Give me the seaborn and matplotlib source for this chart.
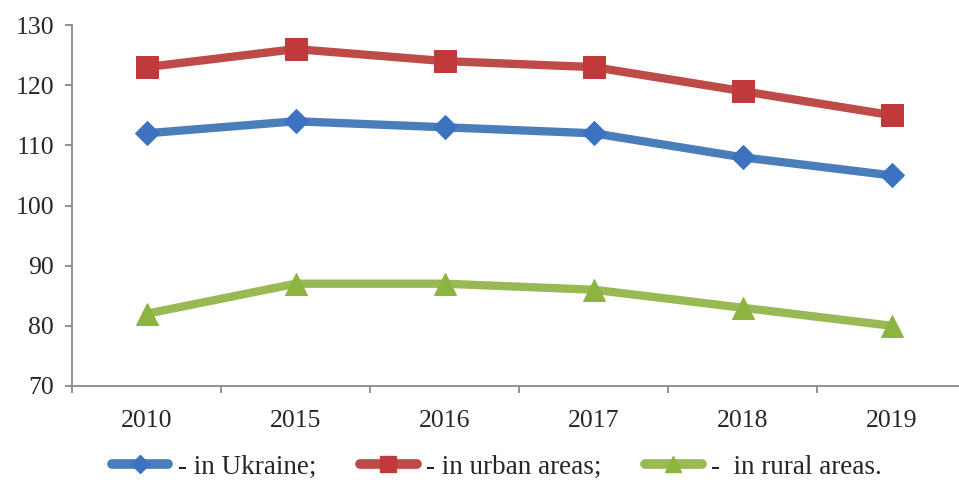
import pandas as pd
import seaborn as sns
import matplotlib.pyplot as plt
from matplotlib.lines import Line2D

# --- datos ---
years = ["2010", "2015", "2016", "2017", "2018", "2019"]
ukraine = [112, 114, 113, 112, 108, 105]
urban = [123, 126, 124, 123, 119, 115]
rural = [82, 87, 87, 86, 83, 80]
series_names = ["- in Ukraine;", "- in urban areas;", "-  in rural areas."]

line_colors = ["#4A7EBB", "#BE4B48", "#98B954"]
marker_colors = ["#3C72C0", "#C0393B", "#8DB43E"]
marker_styles = ["D", "s", "^"]
marker_sizes = [12, 16, 16]

df = pd.concat([
    pd.DataFrame({"year": years, "value": vals, "series": name})
    for name, vals in zip(series_names, [ukraine, urban, rural])
])

sns.set_style("white")
plt.rcParams["font.family"] = ["Liberation Serif", "DejaVu Serif"]

fig = plt.figure(figsize=(9.59, 4.82), dpi=100)
ax = fig.add_axes([72 / 959, 1 - 386 / 482, 894.5 / 959, 361 / 482])

sns.lineplot(
    data=df, x="year", y="value", hue="series", style="series",
    palette=dict(zip(series_names, line_colors)),
    markers=dict(zip(series_names, marker_styles)),
    dashes=False, linewidth=6, legend=False, ax=ax,
    sort=False,
)

for line, mc, ms in zip(ax.get_lines(), marker_colors, marker_sizes):
    line.set_markerfacecolor(mc)
    line.set_markeredgecolor(mc)
    line.set_markersize(ms)
    line.set_solid_capstyle("round")

# --- ejes ---
ax.set_xlim(-0.5, len(years) - 0.5)
ax.set_ylim(70, 130)
ax.set_yticks(range(70, 131, 10))
ax.set_xticks([i - 0.5 for i in range(len(years) + 1)])
ax.set_xticklabels([])
ax.set_xticks(range(len(years)), minor=True)
ax.set_xticklabels(years, minor=True)
ax.set_xlabel("")
ax.set_ylabel("")

for side in ["top", "right"]:
    ax.spines[side].set_visible(False)
for side in ["left", "bottom"]:
    ax.spines[side].set_color("#888888")
    ax.spines[side].set_linewidth(1.3)

ax.tick_params(axis="y", which="major", direction="out", length=5, width=1.3,
               color="#888888", labelsize=18.5, pad=8, left=True)
ax.tick_params(axis="x", which="major", direction="out", length=5, width=1.3,
               color="#888888", bottom=True)
ax.tick_params(axis="x", which="minor", length=0, labelsize=18.5, pad=17)

# --- leyenda ---
handles = [
    Line2D([], [], color=c, lw=7, marker=m, markersize=s * 0.75,
           markerfacecolor=mc, markeredgecolor=mc, solid_capstyle="round")
    for c, mc, m, s in zip(line_colors, marker_colors, marker_styles, marker_sizes)
]
fig.legend(handles, series_names, loc="center", bbox_to_anchor=(0.518, 15 / 482),
           ncol=3, frameon=False, fontsize=19.5, handlelength=2.1,
           columnspacing=1.6, handletextpad=0.35, borderpad=0)

fig.savefig("out.png", dpi=100)
